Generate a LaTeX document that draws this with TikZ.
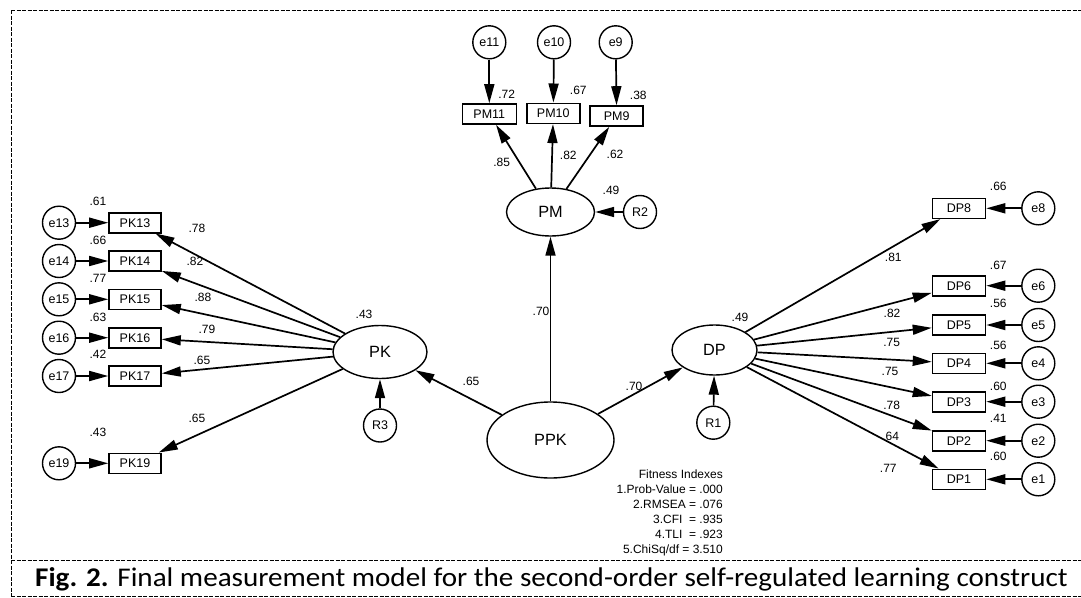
\documentclass[tikz,border=0pt]{standalone}
\usepackage{fontspec}
\setmainfont{Liberation Sans}
\newfontfamily\capfont{Carlito}
\usetikzlibrary{arrows.meta,shapes.geometric}
\begin{document}
\begin{tikzpicture}[x=1pt,y=-1pt,
  every node/.style={inner sep=0pt},
  obs/.style={draw, line width=1.6pt, minimum width=53pt, minimum height=20pt, font=\fontsize{12.5}{14}\selectfont},
  err/.style={draw, circle, line width=1.4pt, minimum size=33pt, font=\fontsize{12.5}{14}\selectfont},
  lat/.style={draw, ellipse, line width=1.4pt, font=\fontsize{16.3}{18}\selectfont},
  lbl/.style={font=\fontsize{12}{14}\selectfont},
  arr/.style={-{Triangle[length=19pt,width=10pt]}, line width=1.7pt},
  fitline/.style={font=\fontsize{12}{14}\selectfont, anchor=base east},
  dashframe/.style={line width=0.9pt, dash pattern=on 4pt off 1.5pt}
]
\useasboundingbox (0,0) rectangle (1081,597);

% frame
\draw[dashframe] (11,10) -- (1081,10);
\draw[dashframe] (11,10) -- (11,597);
\draw[dashframe] (11,560) -- (1081,560);
\draw[dashframe] (11,596) -- (1081,596);

% latent variables
\node[lat, minimum width=88pt, minimum height=48pt] (PM) at (550.5,212) {PM};
\node[lat, minimum width=94pt, minimum height=53pt] (PK) at (380,352) {PK};
\node[lat, minimum width=85pt, minimum height=50pt] (DP) at (714.5,350) {DP};
\node[lat, minimum width=127pt, minimum height=76pt] (PPK) at (550.5,440) {PPK};

\node[err] (R2) at (640,212) {R2};
\node[err] (R3) at (380,425.5) {R3};
\node[err] (R1) at (713.3,422.7) {R1};

% PM indicators
\node[err] (e11) at (489.3,42.3) {e11};
\node[err] (e10) at (554,42.3) {e10};
\node[err] (e9) at (615.7,42.3) {e9};
\node[obs, minimum width=54pt] (PM11) at (489.3,114) {PM11};
\node[obs] (PM10) at (553.3,113.3) {PM10};
\node[obs] (PM9) at (616.7,116) {PM9};

% PK indicators
\foreach \n/\y in {13/222.7,14/261,15/299.3,16/337.7,17/376,19/463.3}{
  \node[err] (e\n) at (59,\y) {e\n};
  \node[obs, minimum width=52pt] (PK\n) at (135,\y) {PK\n};
}

% DP indicators
\foreach \n/\y in {8/208.3,6/285.7,5/325,4/363.3,3/401.7,2/440.7,1/479.3}{
  \node[obs] (DP\n) at (959,\y) {DP\n};
  \node[err] (e\n) at (1038.3,\y) {e\n};
}

% structural paths
\draw[arr] (PPK) -- (PK);
\draw[arr] (PPK) -- (PM);
\draw[arr] (PPK) -- (DP);
\draw[arr] (R2) -- (PM);
\draw[arr] (R3) -- (PK);
\draw[arr] (R1) -- (DP);

% measurement paths
\foreach \n in {11,10,9}{
  \draw[arr] (PM) -- (PM\n);
  \draw[arr] (e\n) -- (PM\n);
}
\foreach \n in {13,14,15,16,17,19}{
  \draw[arr] (PK) -- (PK\n);
  \draw[arr] (e\n) -- (PK\n);
}
\foreach \n in {8,6,5,4,3,2,1}{
  \draw[arr] (DP) -- (DP\n);
  \draw[arr] (e\n) -- (DP\n);
}

% labels
\node[lbl] (l61) at (98,201.7) {.61};
\node[lbl] (l66a) at (98,240) {.66};
\node[lbl] (l77a) at (98,278.3) {.77};
\node[lbl] (l63) at (98,317) {.63};
\node[lbl] (l42) at (98,354) {.42};
\node[lbl] (l43a) at (98,432) {.43};
\node[lbl] (k78) at (197,228) {.78};
\node[lbl] (k82) at (195,261) {.82};
\node[lbl] (k88) at (203,297.3) {.88};
\node[lbl] (k79) at (207,329) {.79};
\node[lbl] (k65) at (202,360) {.65};
\node[lbl] (k65b) at (197,418.3) {.65};
\node[lbl] (l43PK) at (364,314) {.43};
\node[lbl] (s65) at (471,381) {.65};
\node[lbl] (s70a) at (634,386) {.70};
\node[lbl] (s70b) at (541,311) {.70};
\node[lbl] (l72) at (506.7,94) {.72};
\node[lbl] (l67a) at (578.3,90.7) {.67};
\node[lbl] (l38) at (638.3,95) {.38};
\node[lbl] (m85) at (501.7,162.7) {.85};
\node[lbl] (m82) at (568.3,155) {.82};
\node[lbl] (m62) at (615,154) {.62};
\node[lbl] (l49PM) at (611,190) {.49};
\node[lbl] (l49DP) at (740,317.5) {.49};
\node[lbl] (r66) at (998.3,186) {.66};
\node[lbl] (r67) at (998.3,265.7) {.67};
\node[lbl] (r56a) at (998.3,303.3) {.56};
\node[lbl] (r56b) at (998.3,345) {.56};
\node[lbl] (r60a) at (998.3,386) {.60};
\node[lbl] (r41) at (998.3,418.3) {.41};
\node[lbl] (r60b) at (998.3,456.7) {.60};
\node[lbl] (d81) at (893.3,257.3) {.81};
\node[lbl] (d82) at (892,313.5) {.82};
\node[lbl] (d75a) at (891.7,342.3) {.75};
\node[lbl] (d75b) at (890,371.7) {.75};
\node[lbl] (d78) at (891.7,405) {.78};
\node[lbl] (d64) at (890.7,436.7) {.64};
\node[lbl] (d77) at (888.3,468.3) {.77};

% fitness indexes
\node[fitline] (f0) at (723,478.3) {Fitness Indexes};
\node[fitline] (f1) at (723,493.3) {1.Prob-Value = .000};
\node[fitline] (f2) at (723,508.3) {2.RMSEA = .076};
\node[fitline] (f3) at (723,523.3) {3.CFI\ \ = .935};
\node[fitline] (f4) at (723,538.3) {4.TLI\ \ = .923};
\node[fitline] (f5) at (723,553.3) {5.ChiSq/df = 3.510};

% caption
\node[anchor=base west, font=\capfont\fontsize{27}{30}\selectfont] (cap) at (35,586) {\scalebox{1.079}[1]{\textbf{Fig. 2.} Final measurement model for the second-order self-regulated learning construct}};
\end{tikzpicture}
\end{document}
